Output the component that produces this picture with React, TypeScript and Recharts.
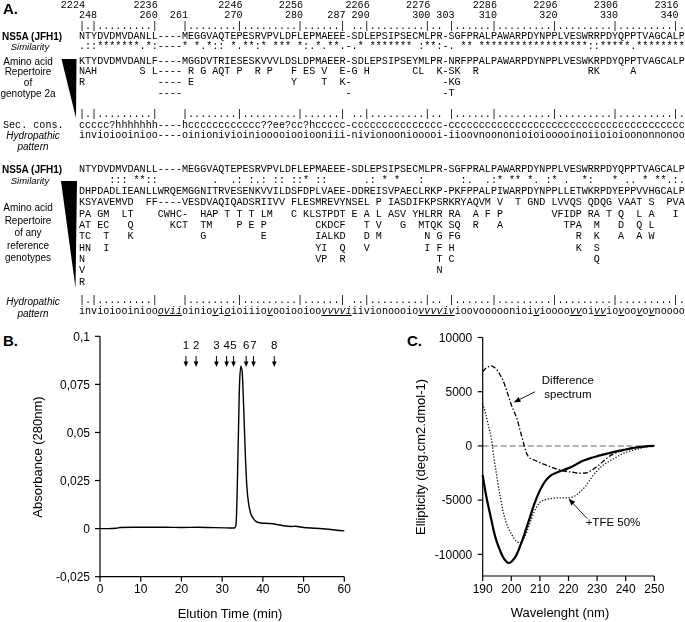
import React from 'react';
import { LineChart, Line, XAxis, YAxis, ReferenceLine, ReferenceDot } from 'recharts';

// ---------- panel B : gel filtration profile ----------
const elutionTime = [0, 2, 4, 5, 8, 12, 16, 20, 24, 28, 31, 33.0, 33.4, 33.7, 34.0, 34.3, 34.6, 34.9, 35.2, 35.5, 35.8, 36.1, 36.5, 37.0, 37.6, 38.3, 39.5, 41.5, 42.6, 43.5, 45, 47, 48, 50, 53, 56, 60];
const absorbance = [0, 0, 0.0002, 0.0006, 0.0007, 0.0007, 0.0007, 0.0006, 0.0007, 0.0005, 0.0004, 0.0003, 0.002, 0.02, 0.05, 0.077, 0.0845, 0.082, 0.068, 0.05, 0.033, 0.021, 0.013, 0.008, 0.0055, 0.0038, 0.0029, 0.0027, 0.0025, 0.0021, 0.0015, 0.0011, 0.0012, 0.0006, 0.0002, -0.0003, -0.0012];
const markerTimes = [21.1, 23.6, 28.6, 31.1, 32.8, 35.9, 37.7, 42.8];
const markerLabels = ['1', '2', '3', '4', '5', '6', '7', '8'];
const markerLevel = 0.0897;
const absTicks = [-0.025, 0, 0.025, 0.05, 0.075, 0.1];
const timeTicks = [0, 10, 20, 30, 40, 50, 60];

// ---------- panel C : CD spectra ----------
const wavelength = [190, 191, 192, 193, 194, 195, 196, 197, 198, 199, 200, 201, 202, 203, 204, 205, 206, 207, 208, 210, 212, 214, 216, 218, 220, 222, 224, 226, 228, 230, 232, 234, 236, 238, 240, 242, 244, 246, 248, 250];
const nativeSpectrum = [-2700, -4300, -5600, -6800, -8000, -8900, -9600, -10200, -10600, -10800, -10700, -10400, -9950, -9300, -8600, -7800, -7000, -6200, -5400, -4100, -3200, -2700, -2450, -2250, -2050, -1800, -1500, -1280, -1100, -950, -800, -680, -550, -430, -330, -230, -130, -70, -20, 0];
const tfeSpectrum = [3900, 3000, 1900, 700, -1200, -2900, -4500, -5900, -6900, -7600, -8100, -8550, -8850, -8950, -8700, -8200, -7500, -6750, -6100, -5200, -4950, -4850, -4800, -4800, -4780, -4650, -4250, -3700, -2950, -2300, -1800, -1450, -1150, -850, -600, -430, -300, -170, -60, 0];
const diffSpectrum = [6850, 7150, 7320, 7380, 7250, 7000, 6600, 6100, 5400, 4600, 3800, 3150, 2500, 1500, 550, -450, -1000, -1200, -1300, -1550, -1750, -1950, -2150, -2300, -2380, -2450, -2520, -2500, -2250, -1900, -1450, -1000, -720, -500, -330, -210, -120, -60, -20, 0];
const ellTicks = [-10000, -5000, 0, 5000, 10000];
const wlTicks = [190, 200, 210, 220, 230, 240, 250];

// ---------- panel A : alignment text ----------
const topNumbers: [string, number][] = [['2224', 0], ['2236', 12], ['2246', 26], ['2256', 36], ['2266', 47], ['2276', 57], ['2286', 68], ['2296', 78], ['2306', 88], ['2316', 98]];
const residueNumbers: [string, number][] = [['248', 2], ['260', 12], ['261', 17], ['270', 26], ['280', 36], ['287', 43], ['290', 47], ['300', 57], ['303', 61], ['310', 68], ['320', 78], ['330', 88], ['340', 98]];
const ruler = '|.|.........|' + '    ' + '|........|' + '.........|' + '......|' + ' ' + '..|' + '.........|' + '..' + ' ' + '|' + '......|' + '.........|' + '.........|' + '.........|' + '.';
const jfh1 = 'NTYDVDMVDANLL----MEGGVAQTEPESRVPVLDFLEPMAEEE-SDLEPSIPSECMLPR-SGFPRALPAWARPDYNPPLVESWRRPDYQPPTVAGCALP';
const simGeno2a = '.::*******.*:' + '----' + '* *.*:: *.**:* *** *:.*.**.-' + '.* ******* :**:-' + '. ** ' + '******************' + '::' + '*****' + '.' + '********';
const geno2aMain = 'KTYDVDMVDANLF----MGGDVTRIESESKVVVLDSLDPMAEER-SDLEPSIPSEYMLPR-NRFPPALPAWARPDYNPPLVESWKRPDYQPPTVAGCALP';
const geno2aVariants: [number, string][][] = [
  [[0, 'NAH'], [10, 'S'], [12, 'L----'], [18, 'R'], [20, 'G'], [22, 'AQT'], [26, 'P'], [29, 'R'], [31, 'P'], [35, 'F'], [37, 'ES'], [40, 'V'], [43, 'E-G'], [47, 'H'], [55, 'CL'], [59, 'K-SK'], [65, 'R'], [84, 'RK'], [91, 'A']],
  [[0, 'R'], [13, '----'], [18, 'E'], [35, 'Y'], [40, 'T'], [43, 'K-'], [60, '-KG']],
  [[13, '----'], [44, '-'], [60, '-T']],
];
const secCons = 'ccccc?hhhhhhh' + '----' + 'hcccccccccccc??ee?cc?hccccc' + '-' + 'ccccccccccccccc' + '-' + 'cccccccccc' + 'cccccccccc' + 'cccccccccc' + 'ccccccccc';
const hydro2a = 'invioiooinioo' + '----' + 'oinionivioiniooooiooiooniii' + '-' + 'nivionooniooooi' + '-' + 'iioovnoononioioiooooinoiioioioononnonoo';
const simAll: [number, string][] = [[5, ':::'], [9, '**::'], [22, '.'], [25, '.:'], [28, ':.:'], [32, '::'], [35, '::*'], [39, '::'], [47, '.:'], [50, '*'], [52, '*'], [56, ':'], [63, ':.'], [67, '.:*'], [71, '**'], [74, '*.'], [77, ':*'], [80, '.'], [83, '*:'], [88, '*'], [90, '..'], [93, '*'], [95, '**.:.']];
const allMain = 'DHPDADLIEANLLWRQEMGGNITRVESENKVVILDSFDPLVAEE-DDREISVPAECLRKP-PKFPPALPIWARPDYNPPLLETWKRPDYEPPVVHGCALP';
const allSecond = 'KSYAVEMVD  FF----VESDVAQIQADSRIIVV FLESMREVYNSEL P IASDIFKPSRKRYAQVM V  T GND LVVQS QDQG VAAT S  PVA';
const allVariants: [number, string][][] = [
  [[0, 'PA'], [3, 'GM'], [7, 'LT'], [13, 'CWHC-'], [20, 'HAP'], [24, 'T'], [26, 'T'], [28, 'T'], [30, 'LM'], [35, 'C'], [37, 'KLSTPDT'], [45, 'E'], [47, 'A'], [49, 'L'], [51, 'ASV'], [55, 'YHLRR'], [61, 'RA'], [65, 'A'], [67, 'F'], [69, 'P'], [78, 'VFIDP'], [84, 'RA'], [87, 'T'], [89, 'Q'], [92, 'L'], [94, 'A'], [98, 'I']],
  [[0, 'AT'], [3, 'EC'], [8, 'Q'], [15, 'KCT'], [20, 'TM'], [26, 'P'], [28, 'E'], [30, 'P'], [39, 'CKDCF'], [47, 'T'], [49, 'V'], [53, 'G'], [56, 'MTQK'], [61, 'SQ'], [65, 'R'], [69, 'A'], [80, 'TPA'], [85, 'M'], [89, 'D'], [92, 'Q'], [94, 'L']],
  [[0, 'TC'], [4, 'T'], [8, 'K'], [20, 'G'], [30, 'E'], [39, 'IALKD'], [47, 'D'], [49, 'M'], [57, 'N'], [59, 'G'], [61, 'FG'], [82, 'R'], [85, 'K'], [89, 'A'], [92, 'A'], [94, 'W']],
  [[0, 'HN'], [4, 'I'], [39, 'YI'], [43, 'Q'], [47, 'V'], [57, 'I'], [59, 'F'], [61, 'H'], [82, 'K'], [85, 'S']],
  [[0, 'N'], [39, 'VP'], [43, 'R'], [59, 'T'], [61, 'C'], [85, 'Q']],
  [[0, 'V'], [59, 'N']],
  [[0, 'R']],
];
// [text, underlined]
const hydroAll: [string, boolean][] = [
  ['invioiooinioo', false], ['ovii', true], ['oinio', false], ['v', true], ['i', false], ['o', true], ['ioiiio', false], ['v', true],
  ['ooiooioo', false], ['vvvvi', true], ['iivionoooio', false], ['vvvviv', true], ['ioovooooonioi', false], ['v', true], ['ioooo', false],
  ['vv', true], ['oi', false], ['vv', true], ['io', false], ['v', true], ['oo', false], ['v', true], ['o', false], ['v', true], ['noooo', false],
];

const MONO = "'Liberation Mono', 'DejaVu Sans Mono', monospace";
const SANS = "'Liberation Sans', Arial, sans-serif";
const CW = 6.06;
const X0 = 79;

function place(items: [number, string][], offset = 0) {
  const a: string[] = Array(100 + offset).fill(' ');
  items.forEach(([c, t]) => {
    for (let i = 0; i < t.length; i++) a[c + offset + i] = t[i];
  });
  return a.join('').replace(/\s+$/, '');
}
const rightAligned = (nums: [string, number][]) => place(nums.map(([t, end]) => [end - t.length + 1, t] as [number, string]), 3);

function Seq({ y, col = 0, children }: { y: number; col?: number; children: React.ReactNode }) {
  return (
    <div style={{ position: 'absolute', left: X0 + col * CW, top: y - 6, fontFamily: MONO, fontSize: 10.1, lineHeight: '12px', whiteSpace: 'pre', color: '#000' }}>
      {children}
    </div>
  );
}

function Lbl({ x, y, text, bold, italic, size = 10, anchor = 'center', rotate }: any) {
  const tx = anchor === 'center' ? '-50%' : '0';
  return (
    <div style={{
      position: 'absolute', left: x, top: y, whiteSpace: 'nowrap', fontFamily: SANS, fontSize: size, lineHeight: 1,
      fontWeight: bold ? 700 : 400, fontStyle: italic ? 'italic' : 'normal', color: '#000',
      transform: `translate(${tx}, -50%)${rotate ? ` rotate(${rotate}deg)` : ''}`, transformOrigin: anchor === 'center' ? '50% 50%' : '0 50%',
    }}>{text}</div>
  );
}

const markerShape = (label: string) => (p: any) => (
  <g>
    <text x={p.cx} y={p.cy - 7} textAnchor="middle" fontSize={11.5} fill="#000">{label}</text>
    <line x1={p.cx} y1={p.cy} x2={p.cx} y2={p.cy + 7} stroke="#000" strokeWidth={1} />
    <path d={`M${p.cx - 2.3},${p.cy + 5.5} L${p.cx + 2.3},${p.cy + 5.5} L${p.cx},${p.cy + 11} Z`} fill="#000" />
  </g>
);

const arrowShape = (p: any) => {
  const { x1, y1, x2, y2 } = p;
  const ang = Math.atan2(y2 - y1, x2 - x1);
  const L = 7, W = 2.6;
  const bx = x2 - L * Math.cos(ang), by = y2 - L * Math.sin(ang);
  const nx = -Math.sin(ang) * W, ny = Math.cos(ang) * W;
  return (
    <g>
      <line x1={x1} y1={y1} x2={bx} y2={by} stroke="#000" strokeWidth={0.9} />
      <path d={`M${x2},${y2} L${bx + nx},${by + ny} L${bx - nx},${by - ny} Z`} fill="#000" />
    </g>
  );
};

const textShape = (text: string, anchor: 'middle' | 'start') => (p: any) => (
  <text x={p.cx} y={p.cy} textAnchor={anchor} dominantBaseline="central" fontSize={11.5} fill="#000">{text}</text>
);

const gelData = elutionTime.map((t, i) => ({ t, a: absorbance[i] }));
const cdData = wavelength.map((w, i) => ({ w, n: nativeSpectrum[i], tfe: tfeSpectrum[i], d: diffSpectrum[i] }));
const tickStyle = { fill: '#000', fontSize: 12 };
const axisStyle = { stroke: '#000', strokeWidth: 1.2 };

export default function App() {
  const upperY = [36.7, 47, 61.5, 72.3, 83, 93.8];
  const lowerY = [169.5, 180.8, 192.1, 203.4, 214.7, 226, 237.3, 248.6, 259.9, 271.2, 282.5];
  return (
    <div style={{ position: 'absolute', left: 0, top: 0, width: 685, height: 622, background: '#fff', overflow: 'hidden', fontFamily: SANS }}>
      {/* ----- A ----- */}
      <div style={{ position: 'absolute', left: 0, top: 0, width: 685, height: 322, willChange: 'transform', WebkitFontSmoothing: 'antialiased' } as any}>
        <Lbl x={3} y={8} text="A." bold size={15} anchor="start" />
        <Seq y={6} col={-3}>{rightAligned(topNumbers)}</Seq>
        <Seq y={16} col={-3}>{rightAligned(residueNumbers)}</Seq>
        <Seq y={26.5}>{ruler}</Seq>
        <Seq y={upperY[0]}>{jfh1}</Seq>
        <Seq y={upperY[1]}>{simGeno2a}</Seq>
        <Seq y={upperY[2]}>{geno2aMain}</Seq>
        {geno2aVariants.map((r, i) => <Seq key={i} y={upperY[3 + i]}>{place(r)}</Seq>)}
        <Seq y={115}>{ruler}</Seq>
        <Seq y={125.5}>{secCons}</Seq>
        <Seq y={136}>{hydro2a}</Seq>

        <Lbl x={2} y={upperY[0]} text="NS5A (JFH1)" bold anchor="start" />
        <Lbl x={30} y={upperY[1]} text="Similarity" italic size={9.5} />
        <Lbl x={28} y={61.5} text="Amino acid" />
        <Lbl x={28} y={72.3} text="Repertoire" />
        <Lbl x={28} y={83} text="of" />
        <Lbl x={28} y={93.8} text="genotype 2a" />
        <div style={{ position: 'absolute', left: 3, top: 125.5 - 6, fontFamily: MONO, fontSize: 10.1, lineHeight: '12px', whiteSpace: 'pre' }}>Sec. cons.</div>
        <Lbl x={33} y={135.5} text="Hydropathic" italic />
        <Lbl x={33} y={146.5} text="pattern" italic />

        <Seq y={lowerY[0]}>{jfh1}</Seq>
        <Seq y={lowerY[1]}>{place(simAll)}</Seq>
        <Seq y={lowerY[2]}>{allMain}</Seq>
        <Seq y={lowerY[3]}>{allSecond}</Seq>
        {allVariants.map((r, i) => <Seq key={i} y={lowerY[4 + i]}>{place(r)}</Seq>)}
        <Seq y={300.5}>{ruler}</Seq>
        <Seq y={311.5}>
          {hydroAll.map(([t, u], i) => u
            ? <span key={i} style={{ textDecoration: 'underline', fontStyle: 'italic' }}>{t}</span>
            : <span key={i}>{t}</span>)}
        </Seq>

        <Lbl x={2} y={lowerY[0]} text="NS5A (JFH1)" bold anchor="start" />
        <Lbl x={30} y={lowerY[1]} text="Similarity" italic size={9.5} />
        <Lbl x={28} y={208} text="Amino acid" />
        <Lbl x={28} y={220.5} text="Repertoire" />
        <Lbl x={28} y={233} text="of any" />
        <Lbl x={28} y={245.5} text="reference" />
        <Lbl x={28} y={258} text="genotypes" />
        <Lbl x={33} y={301.5} text="Hydropathic" italic />
        <Lbl x={33} y={314} text="pattern" italic />

        <svg width={685} height={320} style={{ position: 'absolute', left: 0, top: 0 }}>
          <polygon points="61.5,59 76.5,59 76,118" fill="#000" />
          <polygon points="61,181 77,181 75.5,288" fill="#000" />
        </svg>
      </div>

      {/* ----- B ----- */}
      <Lbl x={3} y={340} text="B." bold size={15} anchor="start" />
      <div style={{ position: 'absolute', left: 0, top: 320 }}>
        <LineChart width={360} height={302} data={gelData} margin={{ top: 16.3, right: 15.7, bottom: 15.3, left: 40 }}>
          <XAxis dataKey="t" type="number" domain={[0, 60]} ticks={timeTicks} tickSize={5} tickMargin={3} height={30}
            axisLine={axisStyle} tickLine={axisStyle} tick={tickStyle} />
          <YAxis type="number" domain={[-0.025, 0.1]} ticks={absTicks} width={60} tickSize={5} tickMargin={5}
            axisLine={axisStyle} tickLine={axisStyle} tick={tickStyle} tickFormatter={(v: number) => String(v).replace('.', ',')} />
          <XAxis xAxisId="top" orientation="top" type="number" domain={[0, 60]} tick={false} tickLine={false} height={0} axisLine={axisStyle} />
          <YAxis yAxisId="right" orientation="right" type="number" domain={[-0.025, 0.1]} tick={false} tickLine={false} width={0} axisLine={axisStyle} />
          <Line type="monotone" dataKey="a" stroke="#000" strokeWidth={1.4} dot={false} isAnimationActive={false} />
          {markerTimes.map((t, i) => (
            <ReferenceDot key={i} x={t} y={markerLevel} r={0} shape={markerShape(markerLabels[i])} />
          ))}
        </LineChart>
      </div>
      <Lbl x={230} y={613} text="Elution Time (min)" size={13} />
      <Lbl x={37} y={457} text="Absorbance (280nm)" size={13} rotate={-90} />

      {/* ----- C ----- */}
      <Lbl x={407} y={340} text="C." bold size={15} anchor="start" />
      <div style={{ position: 'absolute', left: 340, top: 320 }}>
        <LineChart width={345} height={302} data={cdData} margin={{ top: 17.5, right: 30.7, bottom: 16, left: 82.7 }}>
          <XAxis dataKey="w" type="number" domain={[190, 250]} ticks={wlTicks} tickSize={5} tickMargin={3} height={30}
            axisLine={axisStyle} tickLine={axisStyle} tick={tickStyle} />
          <YAxis type="number" domain={[-12000, 10000]} ticks={ellTicks} width={60} tickSize={5} tickMargin={5.5}
            axisLine={axisStyle} tickLine={axisStyle} tick={tickStyle} />
          <XAxis xAxisId="top" orientation="top" type="number" domain={[190, 250]} tick={false} tickLine={false} height={0} axisLine={axisStyle} />
          <YAxis yAxisId="right" orientation="right" type="number" domain={[-12000, 10000]} tick={false} tickLine={false} width={0} axisLine={axisStyle} />
          <ReferenceLine y={0} stroke="#9a9a9a" strokeWidth={1.5} strokeDasharray="6 3" />
          <Line type="monotone" dataKey="d" stroke="#000" strokeWidth={1.3} strokeDasharray="5 2 1.5 2" dot={false} isAnimationActive={false} />
          <Line type="monotone" dataKey="tfe" stroke="#111" strokeWidth={1.3} strokeDasharray="1.3 1.7" dot={false} isAnimationActive={false} />
          <Line type="monotone" dataKey="n" stroke="#000" strokeWidth={2.2} dot={false} isAnimationActive={false} />
          <ReferenceLine segment={[{ x: 208.3, y: 5000 }, { x: 200.8, y: 4000 }]} shape={arrowShape} />
          <ReferenceLine segment={[{ x: 226.5, y: -6700 }, { x: 220, y: -4850 }]} shape={arrowShape} />
          <ReferenceDot x={219.8} y={6050} r={0} shape={textShape('Difference', 'middle')} />
          <ReferenceDot x={219.8} y={4750} r={0} shape={textShape('spectrum', 'middle')} />
          <ReferenceDot x={226} y={-7010} r={0} shape={textShape('+TFE 50%', 'start')} />
        </LineChart>
      </div>
      <Lbl x={560} y={612} text="Wavelenght (nm)" size={13} />
      <Lbl x={420} y={457} text="Ellipticity (deg.cm2.dmol-1)" size={13} rotate={-90} />
    </div>
  );
}
